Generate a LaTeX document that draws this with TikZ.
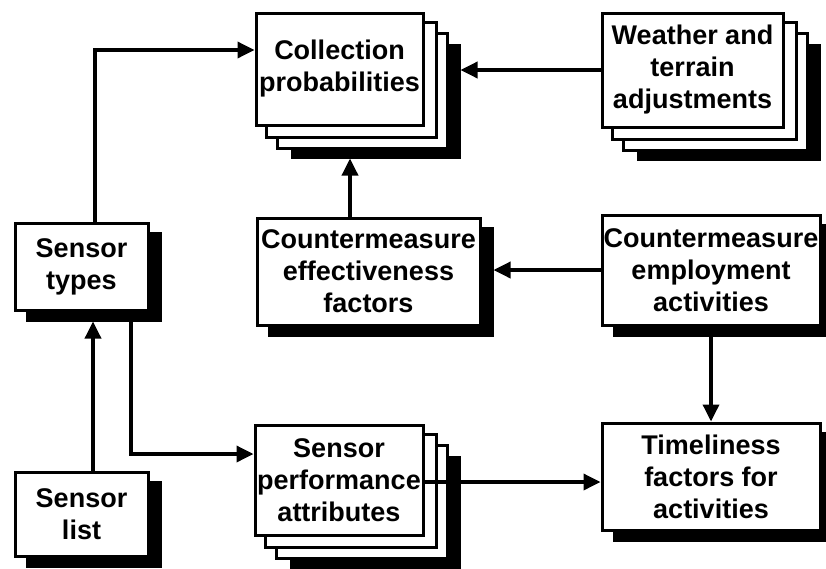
\documentclass[tikz,border=0pt]{standalone}
\usepackage{fontspec}
\setmainfont{Liberation Sans}
\usetikzlibrary{arrows.meta,calc}
\pgfdeclarelayer{bg}
\pgfsetlayers{bg,main}
\newcommand\stackcopies[1]{%
  \begin{pgfonlayer}{bg}
    \fill[black] ([shift={(36,32)}]#1.north west) rectangle ([shift={(36,32)}]#1.south east);
    \draw[copybox] ([shift={(23,22)}]#1.north west) rectangle ([shift={(23,22)}]#1.south east);
    \draw[copybox] ([shift={(12,11)}]#1.north west) rectangle ([shift={(12,11)}]#1.south east);
  \end{pgfonlayer}}
\newcommand\boxshadow[1]{%
  \begin{pgfonlayer}{bg}
    \fill[black] ([shift={(12,10)}]#1.north west) rectangle ([shift={(12,10)}]#1.south east);
  \end{pgfonlayer}}
\begin{document}
\begin{tikzpicture}[x=1pt,y=-1pt,
  box/.style={draw, line width=3pt, fill=white, align=center,
    font=\fontsize{27}{32}\selectfont\bfseries, inner sep=0pt},
  copybox/.style={draw, line width=3pt, fill=white},
  arr/.style={line width=3.5pt, -{Triangle[length=17pt,width=16pt]}}]
\useasboundingbox (0,0) rectangle (826,568);

\node[box, minimum width=167pt, minimum height=112pt] (coll) at (339.5,69) {Collection\\probabilities};
\stackcopies{coll}
\node[box, minimum width=181pt, minimum height=114pt] (weath) at (692.5,70) {Weather and\\terrain\\adjustments};
\stackcopies{weath}
\node[box, minimum width=133pt, minimum height=87pt] (stypes) at (81.5,266.5) {Sensor\\types};
\boxshadow{stypes}
\node[box, minimum width=223pt, minimum height=107pt] (cmeff) at (368.5,271.5) {Countermeasure\\effectiveness\\factors};
\boxshadow{cmeff}
\node[box, minimum width=218pt, minimum height=110pt] (cmemp) at (711,270) {Countermeasure\\employment\\activities};
\boxshadow{cmemp}
\node[box, minimum width=168pt, minimum height=110pt] (spa) at (339,480) {Sensor\\performance\\attributes};
\stackcopies{spa}
\node[box, minimum width=218pt, minimum height=107pt] (time) at (711,476.5) {Timeliness\\factors for\\activities};
\boxshadow{time}
\node[box, minimum width=133pt, minimum height=84pt] (slist) at (81.5,514) {Sensor\\list};
\boxshadow{slist}

\coordinate (collsh) at ([shift={(36,32)}]coll.south east);
\coordinate (cmeffsh) at ([shift={(12,10)}]cmeff.south east);
\coordinate (stypessh) at ([shift={(12,10)}]stypes.south east);
\coordinate (cmefftop) at ([xshift=-18.5pt]cmeff.north);
\coordinate (sltop) at ([xshift=11.5pt]slist.north);
\coordinate (stbot) at ([xshift=49.5pt]stypes.south);
\coordinate (sttop) at ([xshift=13.5pt]stypes.north);

\draw[arr] (sttop) |- ([yshift=19pt]coll.west);
\draw[arr] (weath.west) -- (weath.west -| collsh);
\draw[arr] (cmefftop) -- (cmefftop |- collsh);
\draw[arr] (cmemp.west) -- (cmemp.west -| cmeffsh);
\draw[arr] (cmemp.south) -- (time.north);
\draw[arr] (sltop) -- (sltop |- stypessh);
\draw[arr] (stbot) |- ([yshift=26pt]spa.west);
\draw[arr] ([yshift=-2pt]spa.east) -- ([yshift=-2pt]spa.east -| time.west);
\end{tikzpicture}
\end{document}
